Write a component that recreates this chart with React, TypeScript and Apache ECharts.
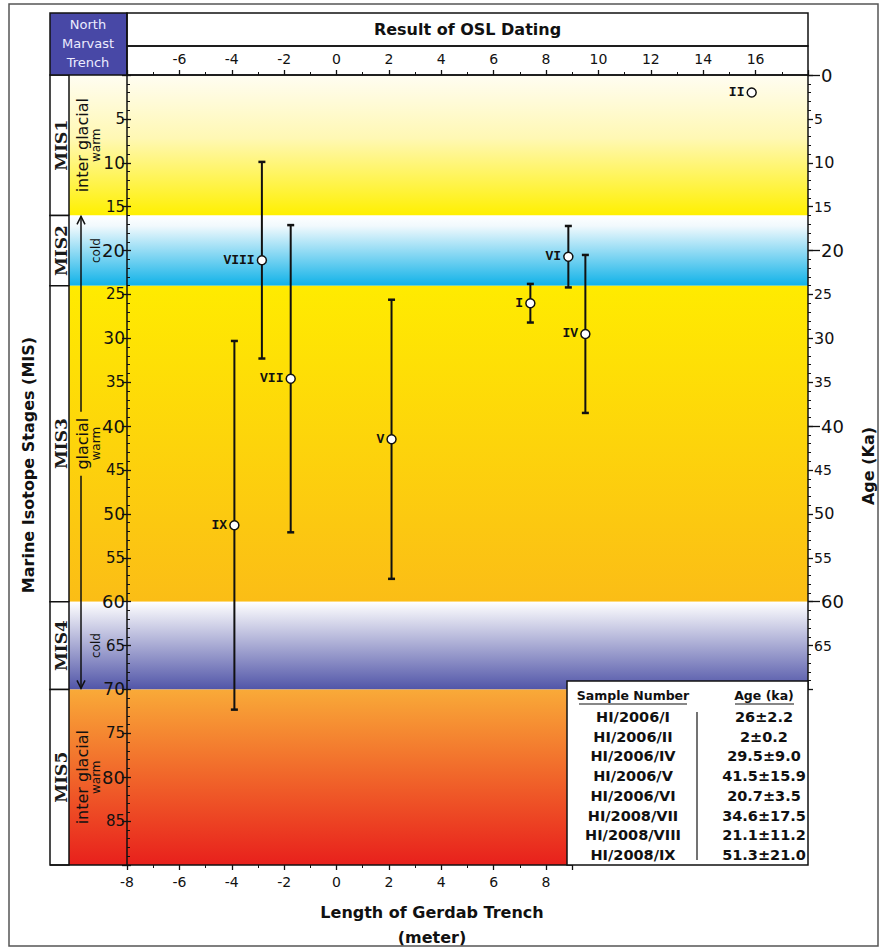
import React, { useEffect, useRef } from "react";
import * as echarts from "echarts";

// ---------------- data ----------------
const sampleIds = ["I", "II", "IV", "V", "VI", "VII", "VIII", "IX"];
const trenchPos = [7.4, 15.85, 9.5, 2.1, 8.85, -1.75, -2.85, -3.9];
const ages = [26, 2, 29.5, 41.5, 20.7, 34.6, 21.1, 51.3];
const ageErr = [2.2, 0.2, 9.0, 15.9, 3.5, 17.5, 11.2, 21.0];

const sampleNumbers = ["HI/2006/I", "HI/2006/II", "HI/2006/IV", "HI/2006/V", "HI/2006/VI", "HI/2008/VII", "HI/2008/VIII", "HI/2008/IX"];
const ageLabels = ["26±2.2", "2±0.2", "29.5±9.0", "41.5±15.9", "20.7±3.5", "34.6±17.5", "21.1±11.2", "51.3±21.0"];

const stageNames = ["MIS1", "MIS2", "MIS3", "MIS4", "MIS5"];
const stageStart = [0, 16, 24, 60, 70];
const stageEnd = [16, 24, 60, 70, 90];
const stagePeriod = ["inter glacial", "", "glacial", "", "inter glacial"];
const stageClimate = ["warm", "cold", "warm", "cold", "warm"];
const glacialSpan = [16, 70];
const majorAgeTicks = [0, 20, 40, 60];

const X_MIN = -8, X_MAX = 18, X_BOTTOM_MAX = 9;
const Y_MIN = 0, Y_MAX = 90, Y_RIGHT_MAX = 70;

// ---------------- styles / layout ----------------
const FONT = "'DejaVu Sans', sans-serif";
const ROMAN_FONT = "'Liberation Mono', monospace";
const MIS_FONT = "'DejaVu Serif', serif";
const INK = "#111";

const bandStops = [
  [{ offset: 0, color: "#fffdf2" }, { offset: 0.45, color: "#fff8b4" }, { offset: 1, color: "#fff000" }],
  [{ offset: 0, color: "#ffffff" }, { offset: 0.15, color: "#f1f9fd" }, { offset: 1, color: "#10b2e8" }],
  [{ offset: 0, color: "#ffeb00" }, { offset: 1, color: "#fbbd16" }],
  [{ offset: 0, color: "#ffffff" }, { offset: 1, color: "#5155a8" }],
  [{ offset: 0, color: "#f9aa38" }, { offset: 1, color: "#e8201c" }],
];

const PL = 127, PR = 808, PT = 75, PB = 865;
const COL_X = 50, STRIP_X = 69, ARROW_X = 81, CLIMATE_X = 96;

export default function App() {
  const ref = useRef<HTMLDivElement>(null);

  useEffect(() => {
    const chart = echarts.init(ref.current!, null, { renderer: "svg" });
    const pw = PR - PL, ph = PB - PT;
    const bottomW = (pw * (X_BOTTOM_MAX - X_MIN)) / (X_MAX - X_MIN);
    const rightH = (ph * (Y_RIGHT_MAX - Y_MIN)) / (Y_MAX - Y_MIN);

    const txt = (x: number, y: number, text: string, o: any = {}, rot = 0) => ({
      type: "text",
      x, y, rotation: rot, z: 100,
      style: {
        text, fill: o.fill || INK, fontSize: o.size || 14, fontFamily: o.family || FONT,
        fontWeight: o.weight || "normal",
        textAlign: o.align || "center", align: o.align || "center",
        textVerticalAlign: "middle", verticalAlign: "middle",
      },
    });

    const tableTop = 681, tableLeft = 567, rowY0 = 717, rowStep = 19.7;
    const graphics: any[] = [
      { type: "rect", z: 100, shape: { x: 9, y: 4, width: 869, height: 942 }, style: { fill: "none", stroke: "#555", lineWidth: 1.5 } },
      { type: "rect", z: 100, shape: { x: COL_X, y: 13, width: PL - COL_X, height: PT - 13 }, style: { fill: "#4848a6", stroke: INK, lineWidth: 1.5 } },
      txt(88, 24, "North", { fill: "#ececff", size: 13 }),
      txt(88, 43, "Marvast", { fill: "#ececff", size: 13 }),
      txt(88, 62, "Trench", { fill: "#ececff", size: 13 }),
      { type: "rect", z: 100, shape: { x: PL, y: 13, width: pw, height: 33 }, style: { fill: "none", stroke: INK, lineWidth: 1.5 } },
      { type: "rect", z: 100, shape: { x: PL, y: 46, width: pw, height: PT - 46 }, style: { fill: "none", stroke: INK, lineWidth: 1.5 } },
      txt((PL + PR) / 2, 29, "Result of OSL Dating", { size: 16, weight: "bold" }),
      { type: "line", z: 100, shape: { x1: COL_X, y1: PB, x2: PL, y2: PB }, style: { stroke: INK, lineWidth: 1.5 } },
      txt(28, 465, "Marine Isotope Stages (MIS)", { size: 16, weight: "bold" }, Math.PI / 2),
      txt(868, 466, "Age (Ka)", { size: 16, weight: "bold" }, Math.PI / 2),
      txt(432, 912, "Length of Gerdab Trench", { size: 16, weight: "bold" }),
      txt(432, 937, "(meter)", { size: 16, weight: "bold" }),
      // table
      { type: "rect", z: 100, shape: { x: tableLeft, y: tableTop, width: PR - tableLeft, height: PB - tableTop }, style: { fill: "#fff", stroke: INK, lineWidth: 1.5 } },
      txt(633, 695, "Sample Number", { size: 12.5, weight: "bold" }),
      txt(764, 695, "Age (ka)", { size: 12.5, weight: "bold" }),
      { type: "line", z: 100, shape: { x1: 579, y1: 704, x2: 687, y2: 704 }, style: { stroke: INK, lineWidth: 1.2 } },
      { type: "line", z: 100, shape: { x1: 735, y1: 704, x2: 794, y2: 704 }, style: { stroke: INK, lineWidth: 1.2 } },
      { type: "line", z: 100, shape: { x1: 697, y1: 712, x2: 697, y2: 860 }, style: { stroke: "#444", lineWidth: 1.5 } },
    ];
    sampleNumbers.forEach((s, i) => {
      graphics.push(txt(633, rowY0 + i * rowStep, s, { size: 14.5, weight: "bold" }));
      graphics.push(txt(764, rowY0 + i * rowStep, ageLabels[i], { size: 14.5, weight: "bold" }));
    });

    const axisLine = { show: true, onZero: false, lineStyle: { color: INK, width: 1.5 } };
    const axisTick = (len: number) => ({ show: true, length: len, lineStyle: { color: INK, width: 1.3 } });
    const minor = (n: number) => ({ show: true, splitNumber: n, length: 3, lineStyle: { color: INK, width: 1 } });

    const richY = (big: number, mid: number, sm: number, pad: number) => ({
      big: { fontSize: big, fontFamily: FONT, color: INK, padding: [0, 0, 0, pad] },
      mid: { fontSize: mid, fontFamily: FONT, color: INK },
      sm: { fontSize: sm, fontFamily: FONT, color: INK },
    });
    const fmtY = (hide: number[]) => (v: number) => {
      if (hide.includes(v)) return "";
      if (v % 20 === 0) return `{big|${v}}`;
      if (v % 10 === 0) return `{mid|${v}}`;
      return `{sm|${v}}`;
    };

    const option: any = {
      animation: false,
      backgroundColor: "#fff",
      grid: [
        { left: PL, top: PT, width: pw, height: ph },
        { left: PL, top: PB - 1, width: bottomW, height: 1 },
        { left: PL, top: PT, width: pw, height: rightH },
      ],
      xAxis: [
        {
          gridIndex: 0, type: "value", position: "top", min: X_MIN, max: X_MAX, interval: 2, z: 5,
          axisLine, axisTick: axisTick(5), minorTick: minor(2), splitLine: { show: false },
          axisLabel: { margin: 9, fontSize: 14, fontFamily: FONT, color: INK, formatter: (v: number) => (v >= -6 && v <= 16 ? String(v) : "") },
        },
        {
          gridIndex: 1, type: "value", position: "bottom", min: X_MIN, max: X_BOTTOM_MAX, interval: 2, z: 5,
          axisLine, axisTick: axisTick(5), minorTick: minor(2), splitLine: { show: false },
          axisLabel: { margin: 10, fontSize: 14, fontFamily: FONT, color: INK, formatter: (v: number) => (v <= 8 ? String(v) : "") },
        },
        { gridIndex: 2, type: "value", min: X_MIN, max: X_MAX, show: false },
      ],
      yAxis: [
        {
          gridIndex: 0, type: "value", inverse: true, position: "left", min: Y_MIN, max: Y_MAX, interval: 5, z: 5,
          axisLine, axisTick: axisTick(5), minorTick: { show: false }, splitLine: { show: false },
          axisLabel: { margin: 2, formatter: fmtY([0, 90]), rich: richY(18, 17, 15, 0) },
        },
        { gridIndex: 1, type: "value", min: 0, max: 1, show: false },
        {
          gridIndex: 2, type: "value", inverse: true, position: "right", min: Y_MIN, max: Y_RIGHT_MAX, interval: 5, z: 5,
          axisLine, axisTick: axisTick(5), minorTick: minor(5), splitLine: { show: false },
          axisLabel: { margin: 6, formatter: fmtY([70]), rich: richY(18, 16, 14, 7) },
        },
        {
          gridIndex: 2, type: "value", inverse: true, position: "right", min: Y_MIN, max: Y_RIGHT_MAX, interval: 20, z: 5,
          axisLine: { show: false, onZero: false },
          axisTick: { show: true, length: 12, customValues: majorAgeTicks, lineStyle: { color: INK, width: 1.3 } },
          splitLine: { show: false }, axisLabel: { show: false },
        },
        {
          gridIndex: 0, type: "value", inverse: true, position: "left", min: Y_MIN, max: Y_MAX, interval: 5, z: 5,
          axisLine: { show: false, onZero: false },
          axisTick: { show: true, inside: true, length: 4, lineStyle: { color: INK, width: 1.3 } },
          minorTick: { show: true, splitNumber: 5, length: 3, lineStyle: { color: INK, width: 1 } },
          splitLine: { show: false }, axisLabel: { show: false },
        },
      ],
      series: [
        {
          type: "custom", xAxisIndex: 0, yAxisIndex: 0, z: 1, clip: false,
          data: stageStart.map((s, i) => [s, stageEnd[i], i]),
          renderItem: (_p: any, api: any) => {
            const i = api.value(2) as number;
            const a = api.coord([X_MIN, api.value(0)]);
            const b = api.coord([X_MAX, api.value(1)]);
            const top = a[1], bot = b[1], mid = (top + bot) / 2;
            const children: any[] = [
              { type: "rect", shape: { x: STRIP_X, y: top, width: b[0] - STRIP_X, height: bot - top },
                style: { fill: new echarts.graphic.LinearGradient(0, 0, 0, 1, bandStops[i]) } },
              { type: "rect", shape: { x: COL_X, y: top, width: STRIP_X - COL_X, height: bot - top },
                style: { fill: "#fff", stroke: INK, lineWidth: 1.5 } },
              { type: "text", x: (COL_X + STRIP_X) / 2 + 1, y: mid, rotation: Math.PI / 2,
                style: { text: stageNames[i], fill: "#1a1a1a", fontSize: 17, fontWeight: "bold", fontFamily: MIS_FONT, align: "center", verticalAlign: "middle", textAlign: "center", textVerticalAlign: "middle" } },
              { type: "text", x: CLIMATE_X, y: mid, rotation: Math.PI / 2,
                style: { text: stageClimate[i], fill: INK, fontSize: 12, fontFamily: FONT, align: "center", verticalAlign: "middle", textAlign: "center", textVerticalAlign: "middle" } },
            ];
            if (stagePeriod[i]) {
              children.push({ type: "text", x: ARROW_X + 1, y: mid, rotation: Math.PI / 2,
                style: { text: stagePeriod[i], fill: INK, fontSize: 16, fontFamily: FONT, align: "center", verticalAlign: "middle", textAlign: "center", textVerticalAlign: "middle" } });
            }
            return { type: "group", children };
          },
        },
        {
          type: "custom", xAxisIndex: 0, yAxisIndex: 0, z: 2, clip: false,
          data: [[glacialSpan[0], glacialSpan[1], stageStart[2], stageEnd[2]]],
          renderItem: (_p: any, api: any) => {
            const top = api.coord([X_MIN, api.value(0)])[1];
            const bot = api.coord([X_MIN, api.value(1)])[1];
            const mid = (api.coord([X_MIN, api.value(2)])[1] + api.coord([X_MIN, api.value(3)])[1]) / 2;
            const gap = 32;
            const st = { stroke: INK, lineWidth: 1.5, fill: "none" };
            return {
              type: "group",
              children: [
                { type: "line", shape: { x1: ARROW_X, y1: top + 1, x2: ARROW_X, y2: mid - gap }, style: st },
                { type: "line", shape: { x1: ARROW_X, y1: mid + gap, x2: ARROW_X, y2: bot - 1 }, style: st },
                { type: "polyline", shape: { points: [[ARROW_X - 4, top + 9], [ARROW_X, top + 1], [ARROW_X + 4, top + 9]] }, style: st },
                { type: "polyline", shape: { points: [[ARROW_X - 4, bot - 9], [ARROW_X, bot - 1], [ARROW_X + 4, bot - 9]] }, style: st },
              ],
            };
          },
        },
        {
          type: "custom", xAxisIndex: 0, yAxisIndex: 0, z: 3,
          data: trenchPos.map((x, i) => [x, ages[i], ageErr[i]]),
          renderItem: (_p: any, api: any) => {
            const x = api.value(0), y = api.value(1), e = api.value(2);
            const t = api.coord([x, y - e]);
            const b = api.coord([x, y + e]);
            const cap = 3.5;
            const st = { stroke: INK, lineWidth: 2 };
            return {
              type: "group",
              children: [
                { type: "line", shape: { x1: t[0], y1: t[1], x2: b[0], y2: b[1] }, style: st },
                { type: "line", shape: { x1: t[0] - cap, y1: t[1], x2: t[0] + cap, y2: t[1] }, style: { stroke: INK, lineWidth: 2.5 } },
                { type: "line", shape: { x1: b[0] - cap, y1: b[1], x2: b[0] + cap, y2: b[1] }, style: { stroke: INK, lineWidth: 2.5 } },
              ],
            };
          },
        },
        {
          type: "scatter", xAxisIndex: 0, yAxisIndex: 0, z: 4,
          symbol: "circle", symbolSize: 9,
          itemStyle: { color: "#fff", borderColor: INK, borderWidth: 1.5, opacity: 1 },
          label: { show: true, position: "left", distance: 2, formatter: "{b}", fontFamily: ROMAN_FONT, fontWeight: "bold", fontSize: 13, color: INK },
          data: trenchPos.map((x, i) => ({ name: sampleIds[i], value: [x, ages[i]] })),
        },
      ],
      graphic: { elements: graphics },
    };

    chart.setOption(option);
    return () => chart.dispose();
  }, []);

  return <div ref={ref} style={{ position: "absolute", left: 0, top: 0, width: 888, height: 949, background: "#fff" }} />;
}
